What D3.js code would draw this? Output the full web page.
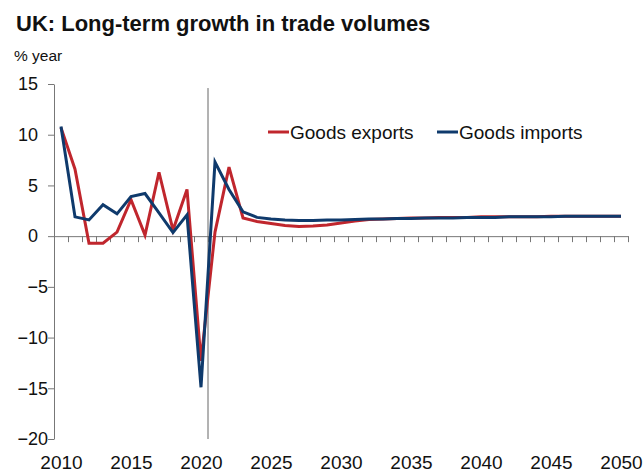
<!DOCTYPE html>
<html>
<head>
<meta charset="utf-8">
<script src="https://cdn.jsdelivr.net/npm/d3@7"></script>
<style>
  body { margin: 0; background: #fff; }
  svg { display: block; font-family: "Liberation Sans", Arial, sans-serif; }
</style>
</head>
<body>
<svg id="chart" width="643" height="472"></svg>
<script>
// categories (years)
const years = [
  2010, 2011, 2012, 2013, 2014, 2015, 2016, 2017, 2018, 2019,
  2020, 2021, 2022, 2023, 2024, 2025, 2026, 2027, 2028, 2029,
  2030, 2031, 2032, 2033, 2034, 2035, 2036, 2037, 2038, 2039,
  2040, 2041, 2042, 2043, 2044, 2045, 2046, 2047, 2048, 2049, 2050
];

// % year growth
const goodsExports = [
  10.7, 6.6, -0.7, -0.7, 0.4, 3.6, 0.1, 6.3, 0.6, 4.6,
  -12.3, 0.4, 6.8, 1.8, 1.45, 1.25, 1.05, 0.95, 1.0, 1.1,
  1.3, 1.5, 1.65, 1.7, 1.75, 1.8, 1.8, 1.85, 1.85, 1.85,
  1.9, 1.9, 1.9, 1.9, 1.9, 1.95, 1.95, 1.95, 1.95, 1.95, 1.95
];
const goodsImports = [
  10.8, 1.9, 1.6, 3.1, 2.2, 3.9, 4.2, 2.3, 0.35, 2.1,
  -14.9, 7.3, 4.6, 2.4, 1.85, 1.7, 1.6, 1.55, 1.55, 1.6,
  1.6, 1.65, 1.7, 1.7, 1.75, 1.75, 1.8, 1.8, 1.8, 1.85,
  1.85, 1.85, 1.9, 1.9, 1.9, 1.9, 1.95, 1.95, 1.95, 1.95, 1.95
];

const yTicks = [15, 10, 5, 0, -5, -10, -15, -20];
const xLabelYears = [2010, 2015, 2020, 2025, 2030, 2035, 2040, 2045, 2050];
const markerYear = 2020.5; // vertical marker line

const seriesList = [
  { name: 'Goods exports', values: goodsExports, color: '#c0262d' },
  { name: 'Goods imports', values: goodsImports, color: '#0f3a6c' }
];

const svg = d3.select('#chart');

const x = d3.scaleLinear().domain([2009.5, 2050.5]).range([54, 628]);
const y = d3.scaleLinear().domain([-20, 15]).range([439, 84]);

// title + unit
svg.append('text')
  .attr('x', 16).attr('y', 31)
  .attr('font-size', 22).attr('font-weight', 'bold')
  .attr('fill', '#111')
  .text('UK: Long-term growth in trade volumes');

svg.append('text')
  .attr('x', 14).attr('y', 61)
  .attr('font-size', 15.5)
  .attr('fill', '#111')
  .text('% year');

// y axis
const yAxis = svg.append('g')
  .attr('transform', `translate(${x(2009.5)},0)`)
  .call(d3.axisLeft(y).tickValues(yTicks).tickSize(6).tickPadding(0).tickSizeOuter(0));
yAxis.select('.domain').attr('stroke', '#777');
yAxis.selectAll('.tick line').attr('stroke', '#777');
yAxis.selectAll('.tick text')
  .attr('font-size', 18)
  .attr('fill', '#111')
  .attr('dx', d => d >= 0 ? -10 : 0);

// zero line with ticks between categories
const halfYears = years.map(d => d - 0.5).concat([years[years.length - 1] + 0.5]);
const xAxis = svg.append('g')
  .attr('transform', `translate(0,${y(0)})`)
  .call(d3.axisBottom(x).tickValues(halfYears).tickSize(6).tickSizeOuter(0).tickFormat(''));
xAxis.select('.domain').attr('stroke', '#777');
xAxis.selectAll('.tick line').attr('stroke', '#777');

// year labels along the bottom
const xLabels = svg.append('g')
  .attr('transform', 'translate(0,455)')
  .call(d3.axisBottom(x).tickValues(xLabelYears).tickSize(0).tickPadding(0).tickFormat(d3.format('d')));
xLabels.select('.domain').remove();
xLabels.selectAll('.tick text').attr('font-size', 19).attr('fill', '#111');

// vertical marker
svg.append('line')
  .attr('x1', x(markerYear)).attr('x2', x(markerYear))
  .attr('y1', y(14.6)).attr('y2', y(-20))
  .attr('stroke', '#666').attr('stroke-width', 1);

// series lines
const line = d3.line()
  .x((d, i) => x(years[i]))
  .y(d => y(d));

seriesList.forEach(s => {
  svg.append('path')
    .datum(s.values)
    .attr('fill', 'none')
    .attr('stroke', s.color)
    .attr('stroke-width', 3)
    .attr('stroke-linejoin', 'miter')
    .attr('d', line);
});

// legend
const legendX = [268, 437];
seriesList.forEach((s, i) => {
  const g = svg.append('g').attr('transform', `translate(${legendX[i]},132)`);
  g.append('line')
    .attr('x1', 0).attr('x2', 21)
    .attr('stroke', s.color).attr('stroke-width', 3);
  g.append('text')
    .attr('x', 22).attr('y', 6.5)
    .attr('font-size', 19)
    .attr('fill', '#111')
    .text(s.name);
});
</script>
</body>
</html>
